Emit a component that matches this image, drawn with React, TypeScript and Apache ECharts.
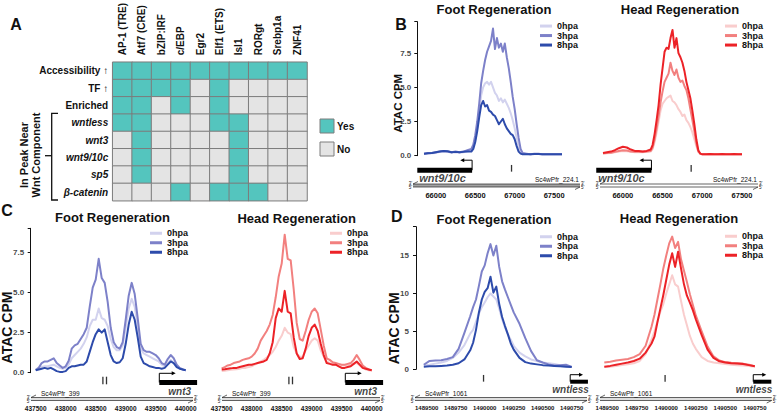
import React, { useEffect, useRef } from 'react';
import * as echarts from 'echarts';

const FONT = "'Liberation Sans', Arial, Helvetica, sans-serif";

// ---------- Panel A data ----------
const HEAT_COLS = ['AP-1 (TRE)', 'Atf7 (CRE)', 'bZIP:IRF', 'c/EBP', 'Egr2', 'Elf1 (ETS)', 'Isl1', 'RORgt', 'Srebp1a', 'ZNF41'];
const HEAT_ROWS = ['Accessibility \u2191', 'TF \u2191', 'Enriched', 'wntless', 'wnt3', 'wnt9/10c', 'sp5', '\u03b2-catenin'];
const HEAT_ACCESS = [1, 1, 1, 1, 1, 1, 1, 1, 1, 1];
const HEAT_TF = [1, 1, 1, 1, 0, 1, 0, 0, 0, 0];
const HEAT_ENRICHED = [1, 1, 0, 1, 0, 1, 0, 0, 0, 0];
const HEAT_WNTLESS = [1, 1, 0, 0, 0, 1, 1, 0, 0, 0];
const HEAT_WNT3 = [0, 1, 0, 0, 0, 0, 1, 0, 0, 0];
const HEAT_WNT910C = [0, 1, 0, 0, 0, 0, 1, 0, 0, 0];
const HEAT_SP5 = [0, 1, 0, 0, 0, 0, 1, 0, 0, 0];
const HEAT_BCAT = [0, 0, 0, 1, 0, 1, 1, 1, 0, 0];
const HEAT_VALUES = [HEAT_ACCESS, HEAT_TF, HEAT_ENRICHED, HEAT_WNTLESS, HEAT_WNT3, HEAT_WNT910C, HEAT_SP5, HEAT_BCAT];
const LEGEND_A = ['Yes', 'No'];

const HPA = ['0hpa', '3hpa', '8hpa'];
const Y_NAME = 'ATAC CPM';

// ---------- Panel B (wnt9/10c) ----------
const B_X = [65750, 65800, 65850, 65900, 65950, 66000, 66050, 66100, 66150, 66200, 66250, 66300,
  66350, 66375, 66400, 66425, 66450, 66475, 66500, 66525, 66550, 66575, 66600, 66625, 66650, 66675, 66700,
  66725, 66750, 66775, 66800, 66825, 66850, 66875, 66900, 66925, 66950, 66975, 67000,
  67050, 67100, 67150, 67200, 67250, 67300, 67350, 67400, 67450, 67500];
const B_FOOT_0 = [0.12, 0.15, 0.18, 0.2, 0.28, 0.32, 0.28, 0.22, 0.25, 0.22, 0.25, 0.3,
  0.4, 0.6, 1.2, 2.0, 3.2, 4.4, 5.0, 5.3, 5.4, 5.2, 5.4, 5.0, 4.6, 4.4, 4.0, 4.2, 3.9, 4.1, 3.8, 3.5, 3.1, 2.6, 2.0, 1.3, 0.7, 0.3, 0.15,
  0.12, 0.1, 0.12, 0.12, 0.1, 0.1, 0.1, 0.1, 0.1, 0.1];
const B_FOOT_3 = [0.15, 0.2, 0.2, 0.25, 0.3, 0.35, 0.3, 0.25, 0.3, 0.25, 0.3, 0.4,
  0.5, 0.8, 1.5, 2.5, 3.8, 5.3, 6.2, 7.0, 7.6, 8.0, 8.4, 9.3, 7.8, 8.6, 7.9, 8.2, 7.6, 8.2, 7.2, 6.4, 5.4, 4.3, 3.4, 2.3, 1.3, 0.5, 0.2,
  0.15, 0.1, 0.15, 0.15, 0.1, 0.1, 0.1, 0.1, 0.1, 0.1];
const B_FOOT_8 = [0.15, 0.18, 0.2, 0.25, 0.3, 0.35, 0.32, 0.25, 0.28, 0.25, 0.28, 0.3,
  0.3, 0.5, 1.0, 1.8, 2.8, 3.7, 4.0, 3.6, 3.7, 3.3, 3.2, 3.0, 2.9, 2.6, 2.3, 2.5, 2.7, 2.3, 2.0, 1.8, 1.6, 1.5, 1.2, 0.7, 0.3, 0.15, 0.1,
  0.1, 0.1, 0.12, 0.12, 0.1, 0.1, 0.1, 0.1, 0.1, 0.1];
const B_HEAD_0 = [0.15, 0.18, 0.2, 0.25, 0.3, 0.35, 0.32, 0.28, 0.25, 0.25, 0.25, 0.28,
  0.3, 0.5, 1.0, 1.7, 2.5, 3.3, 3.8, 4.0, 4.2, 4.3, 4.4, 4.0, 3.9, 3.7, 3.4, 3.2, 2.9, 3.0, 2.6, 2.4, 2.1, 1.7, 1.2, 0.7, 0.3, 0.15, 0.1,
  0.1, 0.1, 0.1, 0.1, 0.1, 0.1, 0.1, 0.1, 0.1, 0.1];
const B_HEAD_3 = [0.18, 0.2, 0.22, 0.28, 0.35, 0.4, 0.38, 0.3, 0.28, 0.28, 0.28, 0.3,
  0.35, 0.6, 1.2, 2.0, 2.9, 3.9, 4.7, 5.4, 5.7, 6.0, 6.8, 6.2, 5.9, 6.3, 5.7, 5.4, 5.5, 5.1, 4.8, 4.2, 3.4, 2.6, 1.8, 0.9, 0.3, 0.15, 0.1,
  0.1, 0.12, 0.1, 0.1, 0.1, 0.1, 0.1, 0.1, 0.1, 0.1];
const B_HEAD_8 = [0.2, 0.25, 0.3, 0.4, 0.55, 0.65, 0.6, 0.45, 0.35, 0.35, 0.3, 0.35,
  0.45, 0.8, 1.6, 2.6, 3.7, 5.2, 6.4, 7.6, 7.9, 7.8, 8.6, 9.2, 7.9, 8.6, 7.5, 7.2, 6.8, 6.2, 5.4, 4.8, 4.2, 3.3, 2.3, 1.2, 0.4, 0.15, 0.1,
  0.1, 0.12, 0.1, 0.1, 0.12, 0.1, 0.1, 0.12, 0.1, 0.1];
const B_X_TICKS = [66000, 66500, 67000, 67500];
const B_Y_TICKS = [0, 2.5, 5, 7.5];
const B_GENE = { name: 'wnt9/10c', start: 65665, end: 66360, tss: 66360, arrowTo: 66235 };
const B_PEAKS = [66860];
const B_SCAFFOLD = 'Sc4wPfr_224.1';

// ---------- Panel C (wnt3) ----------
const C_X = [437500, 437550, 437600, 437650, 437700, 437750, 437800, 437850, 437900, 437950,
  438000, 438050, 438100, 438150, 438200, 438250, 438300, 438350, 438400, 438450,
  438500, 438550, 438600, 438650, 438700, 438750, 438800, 438850, 438900, 438950,
  439000, 439050, 439100, 439150, 439200, 439250, 439300, 439350, 439400, 439450,
  439500, 439550, 439600, 439650, 439700, 439750, 439800, 439850, 439900, 439950, 440000];
const C_FOOT_0 = [0.2, 0.3, 0.35, 0.4, 0.4, 0.45, 0.5, 0.4, 0.3, 0.25,
  0.3, 0.5, 0.9, 1.1, 1.3, 1.5, 1.8, 2.2, 2.9, 3.3,
  3.3, 4.0, 3.4, 3.3, 2.9, 2.1, 1.6, 1.4, 1.4, 1.7,
  2.8, 4.0, 4.6, 4.1, 2.9, 1.5, 1.2, 1.1, 1.0, 0.9,
  0.8, 0.7, 0.5, 0.4, 0.6, 0.8, 0.6, 0.4, 0.25, 0.2, 0.15];
const C_FOOT_3 = [0.15, 0.3, 0.6, 0.7, 0.7, 0.8, 0.9, 0.6, 0.45, 0.3,
  0.4, 0.75, 1.5, 1.7, 1.8, 2.1, 2.4, 2.8, 4.1, 5.3,
  5.8, 7.1, 5.9, 5.6, 4.4, 2.8, 1.9, 1.6, 1.5, 1.9,
  3.3, 4.8, 5.6, 4.9, 3.4, 1.8, 1.4, 1.3, 1.3, 1.2,
  1.1, 0.9, 0.6, 0.5, 0.85, 1.1, 0.9, 0.5, 0.3, 0.2, 0.15];
const C_FOOT_8 = [0.15, 0.2, 0.25, 0.3, 0.25, 0.3, 0.2, 0.1, 0.05, 0.05,
  0.1, 0.3, 0.4, 0.4, 0.45, 0.5, 0.5, 0.7, 1.3, 1.9,
  2.4, 2.7, 2.5, 2.7, 1.9, 1.1, 0.7, 0.6, 0.65, 0.9,
  1.8, 3.0, 3.8, 3.3, 2.2, 1.0, 0.6, 0.5, 0.4, 0.35,
  0.3, 0.3, 0.25, 0.3, 0.5, 0.7, 0.6, 0.35, 0.25, 0.2, 0.15];
const C_HEAD_0 = [0.1, 0.12, 0.15, 0.18, 0.2, 0.22, 0.25, 0.3, 0.3, 0.35,
  0.4, 0.5, 0.6, 0.7, 0.8, 0.95, 1.1, 1.3, 1.6, 2.0,
  2.3, 2.8, 2.5, 2.4, 1.6, 1.2, 1.0, 1.0, 1.4, 1.7,
  2.0, 2.15, 2.0, 1.4, 1.0, 0.7, 0.6, 0.55, 0.5, 0.45,
  0.45, 0.45, 0.45, 0.5, 0.55, 0.6, 0.45, 0.3, 0.2, 0.15, 0.12];
const C_HEAD_3 = [0.27, 0.35, 0.45, 0.5, 0.6, 0.65, 0.7, 0.8, 0.85, 0.9,
  1.0, 1.2, 1.5, 2.0, 2.3, 2.6, 3.0, 3.6, 4.7, 6.0,
  6.8, 8.6, 7.1, 7.0, 5.2, 3.1, 2.1, 2.0, 2.6, 3.3,
  3.8, 4.0, 3.7, 2.7, 1.7, 0.9, 0.8, 0.65, 0.6, 0.55,
  0.5, 0.5, 0.55, 0.6, 0.8, 1.1, 0.8, 0.45, 0.3, 0.2, 0.15];
const C_HEAD_8 = [0.2, 0.22, 0.25, 0.27, 0.3, 0.3, 0.35, 0.4, 0.45, 0.5,
  0.5, 0.55, 0.6, 0.65, 0.7, 0.8, 1.2, 1.9, 3.4, 4.0,
  3.8, 5.1, 3.8, 3.7, 2.2, 1.2, 0.85, 0.9, 1.5, 2.3,
  2.8, 3.0, 2.6, 1.8, 1.1, 0.6, 0.55, 0.5, 0.5, 0.4,
  0.3, 0.3, 0.35, 0.4, 0.55, 0.7, 0.5, 0.3, 0.25, 0.2, 0.15];
const C_X_TICKS = [437500, 438000, 438500, 439000, 439500, 440000];
const C_Y_TICKS = [0, 2.5, 5, 7.5];
const C_GENE = { name: 'wnt3', start: 439560, end: 440190, tss: 439560, arrowTo: 439800 };
const C_PEAKS = [438620, 438680];
const C_SCAFFOLD = 'Sc4wPfr_399';

// ---------- Panel D (wntless) ----------
const D_X = [1489475, 1489525, 1489575, 1489625, 1489675, 1489725, 1489775, 1489825, 1489875,
  1489900, 1489925, 1489950, 1489975, 1490000, 1490025, 1490050, 1490075, 1490100, 1490125, 1490150, 1490175, 1490200, 1490225, 1490250,
  1490300, 1490350, 1490400, 1490450, 1490500, 1490550, 1490600, 1490650, 1490700, 1490750];
const D_FOOT_0 = [0.5, 0.6, 0.75, 0.9, 1.1, 1.5, 2.2, 3.2, 4.7,
  5.2, 6.3, 7.3, 8.2, 8.8, 9.5, 10.0, 9.6, 9.2, 8.0, 6.6, 5.5, 4.6, 3.9, 3.1,
  2.2, 1.7, 1.3, 1.1, 0.9, 0.8, 0.7, 0.55, 0.45, 0.35];
const D_FOOT_3 = [0.6, 1.1, 1.15, 1.2, 1.35, 1.6, 2.7, 4.8, 7.0,
  8.2, 9.2, 11.0, 12.9, 13.7, 15.3, 16.5, 15.0, 16.3, 13.5, 11.6, 10.5, 9.5, 8.5, 7.5,
  6.0, 4.1, 2.4, 1.2, 0.9, 0.65, 0.5, 0.55, 0.6, 0.3];
const D_FOOT_8 = [0.35, 0.4, 0.4, 0.45, 0.5, 0.6, 0.8, 1.3, 2.5,
  3.5, 5.2, 7.5, 9.2, 10.2, 10.7, 12.2, 10.1, 10.9, 8.6, 6.9, 5.7, 4.6, 3.4, 2.6,
  1.5, 0.95, 0.75, 0.65, 0.55, 0.5, 0.45, 0.4, 0.35, 0.3];
const D_HEAD_0 = [0.3, 0.35, 0.45, 0.55, 0.65, 0.8, 1.1, 2.0, 3.9,
  5.0, 6.3, 7.6, 8.6, 10.0, 11.2, 12.4, 11.2, 10.9, 9.0, 7.2, 5.8, 4.4, 3.4, 2.7,
  1.6, 1.1, 0.9, 0.8, 0.7, 0.6, 0.55, 0.5, 0.45, 0.35];
const D_HEAD_3 = [0.9, 1.0, 1.15, 1.25, 1.35, 1.6, 2.0, 3.1, 5.6,
  7.2, 9.2, 11.2, 13.3, 15.0, 16.6, 17.5, 16.0, 16.8, 14.5, 13.0, 11.5, 9.9, 8.5, 7.1,
  5.0, 3.0, 1.7, 1.15, 0.95, 0.85, 0.8, 0.75, 0.6, 0.4];
const D_HEAD_8 = [0.35, 0.45, 0.6, 0.75, 0.9, 1.1, 1.4, 2.2, 3.4,
  4.3, 6.2, 8.0, 9.8, 11.8, 13.8, 15.3, 13.5, 15.5, 13.3, 11.2, 9.7, 8.8, 7.8, 6.6,
  4.5, 2.6, 1.5, 1.05, 0.9, 0.8, 0.75, 0.7, 0.55, 0.4];
const D_X_TICKS = [1489500, 1489750, 1490000, 1490250, 1490500, 1490750];
const D_Y_TICKS = [0, 5, 10, 15];
const D_GENE = { name: 'wntless', start: 1490737, end: 1490890, tss: 1490737, arrowTo: 1490830 };
const D_PEAKS = [1489990];
const D_SCAFFOLD = 'Sc4wPfr_1061';

// ---------- styles / layout ----------
const FOOT_COLORS = ['#D2D2EE', '#7D81C9', '#2D4BAB'];
const HEAD_COLORS = ['#F9CDCD', '#F2807F', '#EC2227'];
const TEAL = '#54C5BE';
const GRAY = '#E4E4E4';
const INK = '#111';

const TRACK_B = { barY: 15.2, barW: 5, arrowTop: 5.2, peakY: 13.3, peakH: 6.7, nameY: 23.3, nameDx: 2, nameSize: 11, nameAlign: 'left', labelSize: 7.5, labelMargin: 2 };
const TRACK_C = { barY: 14.5, barW: 5, arrowTop: 5.3, peakY: 12.5, peakH: 7.6, nameY: 23.5, nameDx: -6, nameSize: 10, nameAlign: 'right', labelSize: 6.5, labelMargin: 3 };
const TRACK_D = { barY: 13.7, barW: 4, arrowTop: 6.7, peakY: 10.3, peakH: 6.7, nameY: 21.5, nameDx: 1, nameSize: 10, nameAlign: 'right', labelSize: 6, labelMargin: 3 };

// namePos: centre of the rotated "ATAC CPM" title
const PANELS: any[] = [
  { id: 'Bf', xs: B_X, ys: [B_FOOT_0, B_FOOT_3, B_FOOT_8], colors: FOOT_COLORS, sig: [424, 562, 21.7, 155.7], yr: [0, 9.8],
    yAxis: { offset: 6.7, margin: 5.5, ticks: B_Y_TICKS, step: 2.5, dec: 1, nameSize: 11.5, namePos: [398.3, 103.3] },
    trk: [405, 595, 155, 189], track: TRACK_B, gene: B_GENE, peaks: B_PEAKS,
    ticks: B_X_TICKS, shift: 100, legend: [540, 21.3], title: 'Foot Regeneration', titlePos: [494, 9.5],
    ruler: [413, 580, 184], scaffold: B_SCAFFOLD, scaffoldRight: true, rulerFill: '#a3a3a3' },
  { id: 'Bh', xs: B_X, ys: [B_HEAD_0, B_HEAD_3, B_HEAD_8], colors: HEAD_COLORS, sig: [603, 742, 21.7, 155.7], yr: [0, 9.8],
    yAxis: null, trk: [585, 775, 155, 189], track: TRACK_B, gene: B_GENE, peaks: B_PEAKS,
    ticks: B_X_TICKS, shift: 0, legend: [725, 21.3], title: 'Head Regeneration', titlePos: [680, 9.5],
    ruler: [600, 758, 184], scaffold: B_SCAFFOLD, scaffoldRight: true, rulerFill: '#ffffff' },
  { id: 'Cf', xs: C_X, ys: [C_FOOT_0, C_FOOT_3, C_FOOT_8], colors: FOOT_COLORS, sig: [35.7, 185.7, 228.3, 372.7], yr: [0, 9.0],
    yAxis: { offset: 5, margin: 6, ticks: C_Y_TICKS, step: 2.5, dec: 1, nameSize: 14, namePos: [7.2, 327.5] },
    trk: [2, 200, 368, 402], track: TRACK_C, gene: C_GENE, peaks: C_PEAKS,
    ticks: C_X_TICKS, shift: 0, legend: [150, 228.5], title: 'Foot Regeneration', titlePos: [112.5, 217.7],
    ruler: [31, 193, 397.5], scaffold: C_SCAFFOLD, scaffoldRight: false, rulerFill: '#dedede' },
  { id: 'Ch', xs: C_X, ys: [C_HEAD_0, C_HEAD_3, C_HEAD_8], colors: HEAD_COLORS, sig: [221.7, 371.7, 228.3, 372.7], yr: [0, 9.0],
    yAxis: null, trk: [200, 390, 368, 402], track: TRACK_C, gene: C_GENE, peaks: C_PEAKS,
    ticks: C_X_TICKS, shift: 0, legend: [330, 228.5], title: 'Head Regeneration', titlePos: [296.7, 218],
    ruler: [222, 380, 397.5], scaffold: C_SCAFFOLD, scaffoldRight: false, rulerFill: '#dedede' },
  { id: 'Df', xs: D_X, ys: [D_FOOT_0, D_FOOT_3, D_FOOT_8], colors: FOOT_COLORS, sig: [423.8, 571.7, 226.7, 369.3], yr: [0, 18.8],
    yAxis: { offset: 7.8, margin: 6.5, ticks: D_Y_TICKS, step: 5, dec: 0, nameSize: 14, namePos: [394.3, 328.3] },
    trk: [405, 595, 368, 402], track: TRACK_D, gene: D_GENE, peaks: D_PEAKS,
    ticks: D_X_TICKS, shift: 0, legend: [540, 232], title: 'Foot Regeneration', titlePos: [494, 219],
    ruler: [415, 587, 397.5], scaffold: D_SCAFFOLD, scaffoldRight: false, rulerFill: '#dedede' },
  { id: 'Dh', xs: D_X, ys: [D_HEAD_0, D_HEAD_3, D_HEAD_8], colors: HEAD_COLORS, sig: [604.3, 754.8, 226.7, 369.3], yr: [0, 18.8],
    yAxis: null, trk: [590, 778, 368, 402], track: TRACK_D, gene: D_GENE, peaks: D_PEAKS,
    ticks: D_X_TICKS, shift: 0, legend: [725, 231.5], title: 'Head Regeneration', titlePos: [679, 218.3],
    ruler: [600, 771.7, 397.5], scaffold: D_SCAFFOLD, scaffoldRight: false, rulerFill: '#dedede' },
];

function txt(text: string, x: number, y: number, size: number, opts: any = {}) {
  return {
    type: 'text', x, y, rotation: opts.rotation || 0, silent: true, z: opts.z || 10,
    style: {
      text, fill: opts.fill || INK, fontSize: size, fontWeight: opts.weight || 'bold', fontStyle: opts.style || 'normal',
      fontFamily: FONT, align: opts.align || 'center', verticalAlign: opts.valign || 'middle', lineHeight: opts.lineHeight,
    },
  };
}

function ruler(x0: number, x1: number, y: number, name: string, right: boolean, fill: string) {
  const s = { stroke: '#222', lineWidth: 0.7, fill: 'none' };
  const els: any[] = [
    { type: 'rect', silent: true, shape: { x: x0, y, width: x1 - x0, height: 3 }, style: { fill } },
    { type: 'line', silent: true, shape: { x1: x0, y1: y, x2: x1, y2: y }, style: s },
    { type: 'line', silent: true, shape: { x1: x0, y1: y + 3, x2: x1, y2: y + 3 }, style: s },
    { type: 'line', silent: true, shape: { x1: x0, y1: y, x2: x0 + 5, y2: y - 2.5 }, style: s },
    { type: 'line', silent: true, shape: { x1: x1, y1: y + 3, x2: x1 - 5, y2: y + 5.5 }, style: s },
    txt("3'", x0 - 1, y - 0.5, 4.5, { align: 'right', weight: 'normal' }),
    txt("5'", x0 - 1, y + 3.8, 4.5, { align: 'right', weight: 'normal' }),
    txt("3'", x1 + 1, y - 0.5, 4.5, { align: 'left', weight: 'normal' }),
    txt("5'", x1 + 1, y + 3.8, 4.5, { align: 'left', weight: 'normal' }),
  ];
  if (right) els.push(txt(name, x1 - 1, y - 0.8, 6.5, { align: 'right', valign: 'bottom', weight: 'normal' }));
  else els.push(txt(name, x0 + 10, y - 0.8, 6.5, { align: 'left', valign: 'bottom', weight: 'normal' }));
  return els;
}

function buildOption() {
  const grids: any[] = [{ left: 112.7, top: 58.3, width: 194.3, height: 142.4 }];
  const xAxes: any[] = [{
    type: 'category', gridIndex: 0, data: HEAT_COLS, position: 'top',
    axisLine: { show: false }, axisTick: { show: false }, splitLine: { show: false },
    axisLabel: { interval: 0, rotate: -90, margin: 7, fontSize: 10, fontWeight: 'bold', color: INK, fontFamily: FONT },
  }];
  const yAxes: any[] = [{
    type: 'category', gridIndex: 0, data: HEAT_ROWS, inverse: true,
    axisLine: { show: false }, axisTick: { show: false }, splitLine: { show: false },
    axisLabel: {
      interval: 0, margin: 4.5, color: INK,
      formatter: (v: string, i: number) => (i >= 3 ? `{i|${v}}` : `{n|${v}}`),
      rich: {
        n: { fontSize: 10, fontWeight: 'bold', fontFamily: FONT, color: INK },
        i: { fontSize: 10, fontWeight: 'bold', fontStyle: 'italic', fontFamily: FONT, color: INK },
      },
    },
  }];
  const heatData: any[] = [];
  HEAT_VALUES.forEach((row, r) => row.forEach((v, c) => heatData.push([c, r, v])));
  const series: any[] = [{
    type: 'heatmap', xAxisIndex: 0, yAxisIndex: 0, data: heatData, silent: true,
    itemStyle: { borderColor: '#7c7c7c', borderWidth: 1 },
    emphasis: { disabled: true },
  }];
  const legends: any[] = [];
  const graphics: any[] = [
    txt('A', 16, 24.2, 16), txt('B', 401, 24, 16), txt('C', 7, 210, 16), txt('D', 396.7, 216.5, 16),
    // Panel A legend
    { type: 'rect', silent: true, shape: { x: 320, y: 119, width: 14, height: 14 }, style: { fill: TEAL, stroke: '#7c7c7c', lineWidth: 1 } },
    { type: 'rect', silent: true, shape: { x: 320, y: 142, width: 14, height: 14 }, style: { fill: GRAY, stroke: '#7c7c7c', lineWidth: 1 } },
    txt(LEGEND_A[0], 337, 126.5, 10, { align: 'left' }),
    txt(LEGEND_A[1], 337, 149.5, 10, { align: 'left' }),
    // bracket
    { type: 'polyline', silent: true, shape: { points: [[58, 113.3], [51.7, 113.3], [51.7, 200], [58, 200]] }, style: { stroke: INK, lineWidth: 1.3, fill: 'none' } },
    { type: 'line', silent: true, shape: { x1: 45, y1: 155.7, x2: 51.7, y2: 155.7 }, style: { stroke: INK, lineWidth: 1.3 } },
    txt('In Peak Near\nWnt Component', 30, 155, 11, { rotation: Math.PI / 2, lineHeight: 11.5 }),
  ];

  PANELS.forEach((p) => {
    const [sL, sR, sT, sB] = p.sig;
    const [tL, tR, tT, tB] = p.trk;
    const xmin = p.xs[0];
    const xmax = p.xs[p.xs.length - 1];
    const bpPerPx = (xmax - xmin) / (sR - sL);
    const tMin = xmin + (tL - sL) * bpPerPx;
    const tMax = xmin + (tR - sL) * bpPerPx;
    const T = p.track;

    const sg = grids.length;
    grids.push({ left: sL, top: sT, width: sR - sL, height: sB - sT });
    const tg = grids.length;
    grids.push({ left: tL, top: tT, width: tR - tL, height: tB - tT });

    const sx = xAxes.length;
    xAxes.push({ type: 'value', gridIndex: sg, min: xmin, max: xmax, show: false });
    const tx = xAxes.length;
    xAxes.push({ type: 'value', gridIndex: tg, min: tMin, max: tMax, show: false });
    xAxes.push({
      type: 'value', gridIndex: tg, min: tMin + p.shift, max: tMax + p.shift, position: 'bottom',
      axisLine: { show: false }, axisTick: { show: false }, splitLine: { show: false },
      axisLabel: {
        customValues: p.ticks, formatter: (v: number) => String(v), margin: T.labelMargin,
        fontSize: T.labelSize, fontWeight: 'bold', color: INK, fontFamily: FONT, showMinLabel: true, showMaxLabel: true,
      },
    });

    const sy = yAxes.length;
    if (p.yAxis) {
      const ya = p.yAxis;
      yAxes.push({
        type: 'value', gridIndex: sg, min: p.yr[0], max: p.yr[1], interval: ya.step, position: 'left', offset: ya.offset,
        axisLine: { show: true, lineStyle: { color: INK, width: 1 } },
        axisTick: { show: true, length: 3, lineStyle: { color: INK, width: 1 } },
        splitLine: { show: false },
        axisLabel: { show: false },
      });
      // tick labels: labels of points placed at the tick values on this y scale
      series.push({
        type: 'scatter', xAxisIndex: sx, yAxisIndex: sy, silent: true, clip: false, z: 20,
        data: ya.ticks.map((t: number) => [xmin, t]),
        symbolSize: 1, itemStyle: { color: 'transparent' },
        label: {
          show: true, position: 'left', distance: ya.offset + ya.margin,
          formatter: (q: any) => Number(q.value[1]).toFixed(ya.dec),
          fontSize: 8, fontWeight: 'bold', color: INK, fontFamily: FONT,
        },
        labelLayout: { hideOverlap: false },
      });
      graphics.push(txt(Y_NAME, ya.namePos[0], ya.namePos[1], ya.nameSize, { rotation: Math.PI / 2, z: 1 }));
    } else {
      yAxes.push({ type: 'value', gridIndex: sg, min: p.yr[0], max: p.yr[1], show: false });
    }
    const ty = yAxes.length;
    yAxes.push({ type: 'value', gridIndex: tg, min: 0, max: tB - tT, inverse: true, show: false });

    const names: string[] = [];
    p.ys.forEach((ys: number[], i: number) => {
      const name = `${p.id} ${HPA[i]}`;
      names.push(name);
      series.push({
        type: 'line', name, xAxisIndex: sx, yAxisIndex: sy, silent: true,
        data: p.xs.map((x: number, j: number) => [x, ys[j]]),
        showSymbol: false, symbol: 'none', z: 3 + i, clip: false,
        color: p.colors[i],
        lineStyle: { color: p.colors[i], width: 2, join: 'round' },
        itemStyle: { color: p.colors[i] },
      });
    });
    legends.push({
      data: names, left: p.legend[0], top: p.legend[1], orient: 'vertical', padding: 0,
      itemWidth: 12, itemHeight: 3, itemGap: 0, icon: 'rect', selectedMode: false,
      formatter: (n: string) => n.split(' ')[1],
      textStyle: { fontSize: 9, fontWeight: 'bold', lineHeight: 9.5, color: INK, fontFamily: FONT, padding: 0 },
    });

    const g = p.gene;
    const dir = g.arrowTo > g.tss ? -90 : 90;
    series.push({
      type: 'line', xAxisIndex: tx, yAxisIndex: ty, silent: true, symbol: 'none',
      data: [[g.start, T.barY], [g.end, T.barY]],
      lineStyle: { color: '#000', width: T.barW, cap: 'butt' },
    });
    series.push({
      type: 'line', xAxisIndex: tx, yAxisIndex: ty, silent: true, showSymbol: true,
      data: [
        { value: [g.tss, T.barY], symbol: 'none' },
        { value: [g.tss, T.arrowTop], symbol: 'none' },
        { value: [g.arrowTo, T.arrowTop], symbol: 'triangle', symbolSize: 4, symbolRotate: dir },
      ],
      lineStyle: { color: '#000', width: 1 }, itemStyle: { color: '#000' },
    });
    series.push({
      type: 'scatter', xAxisIndex: tx, yAxisIndex: ty, silent: true,
      data: p.peaks.map((x: number) => [x, T.peakY]),
      symbol: 'rect', symbolSize: [1.3, T.peakH], itemStyle: { color: '#000' },
    });
    series.push({
      type: 'scatter', xAxisIndex: tx, yAxisIndex: ty, silent: true,
      data: [[T.nameAlign === 'left' ? g.start : g.end, T.nameY]],
      symbolSize: 1, itemStyle: { color: 'transparent' },
      label: {
        show: true, formatter: g.name, position: 'inside', offset: [T.nameDx, 0], align: T.nameAlign, verticalAlign: 'middle',
        fontSize: T.nameSize, fontWeight: 'bold', fontStyle: 'italic', color: INK, fontFamily: FONT,
      },
    });

    graphics.push(txt(p.title, p.titlePos[0], p.titlePos[1], 13));
    graphics.push(...ruler(p.ruler[0], p.ruler[1], p.ruler[2], p.scaffold, p.scaffoldRight, p.rulerFill));
  });

  return {
    animation: false,
    backgroundColor: '#ffffff',
    textStyle: { fontFamily: FONT },
    grid: grids,
    xAxis: xAxes,
    yAxis: yAxes,
    legend: legends,
    visualMap: {
      type: 'piecewise', show: false, seriesIndex: 0, dimension: 2,
      pieces: [{ value: 0, color: GRAY }, { value: 1, color: TEAL }],
    },
    series,
    graphic: { elements: graphics },
  };
}

export default function App() {
  const ref = useRef<HTMLDivElement>(null);
  useEffect(() => {
    document.body.style.margin = '0';
    const chart = echarts.init(ref.current as HTMLDivElement, null, { renderer: 'svg' });
    chart.setOption(buildOption() as any);
    return () => chart.dispose();
  }, []);
  return <div ref={ref} style={{ width: 780, height: 415 }} />;
}
